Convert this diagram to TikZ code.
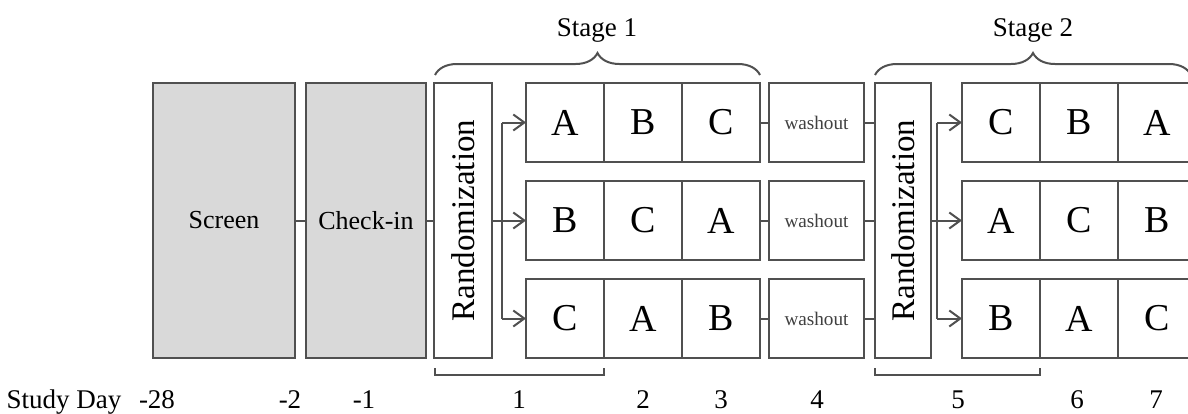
\documentclass[tikz,border=0pt]{standalone}
\usepackage{fontspec}
\setmainfont{Liberation Serif}
\usepackage{graphicx}
\usetikzlibrary{arrows.meta,decorations.pathreplacing}
\definecolor{ln}{HTML}{505050}
\definecolor{fillg}{HTML}{D9D9D9}
\begin{document}
\begin{tikzpicture}[x=0.5pt,y=-0.5pt,
  box/.style={draw=ln, line width=1pt, inner sep=0pt, outer sep=0pt},
  big/.style={box, minimum height=137.5pt},
  grayb/.style={big, fill=fillg, font=\fontsize{13}{15}\selectfont},
  randb/.style={big, minimum width=29pt, font=\fontsize{16.5}{18}\selectfont},
  cell/.style={box, minimum width=39pt, minimum height=39.5pt, font=\fontsize{19}{21}\selectfont},
  wash/.style={box, minimum width=47.5pt, minimum height=39.5pt, font=\fontsize{9.6}{11}\selectfont, text=black!75},
  conn/.style={draw=ln, line width=1pt},
  arr/.style={conn, -{Straight Barb[length=5.5pt,width=8pt]}},
  lbl/.style={font=\fontsize{13.5}{15}\selectfont, anchor=base, inner sep=0pt},
  brc/.style={conn, decorate, decoration={brace, amplitude=11pt}},
]
\useasboundingbox (0,0) rectangle (1188,413);

% big boxes
\node[grayb, minimum width=71pt] (screen) at (224,220.5) {Screen};
\node[grayb, minimum width=60pt] (checkin) at (366,220.5) {Check-in};
\node[randb] (rand1) at (463,220.5) {\rotatebox{90}{Randomization}};
\node[randb, minimum width=28pt] (rand2) at (903,220.5) {\rotatebox{90}{Randomization}};

% stage 1 rows
\node[cell] (a11) at (565,122.5) {A};
\node[cell] (a12) at (643,122.5) {B};
\node[cell] (a13) at (721,122.5) {C};
\node[cell] (a21) at (565,220.5) {B};
\node[cell] (a22) at (643,220.5) {C};
\node[cell] (a23) at (721,220.5) {A};
\node[cell] (a31) at (565,318.5) {C};
\node[cell] (a32) at (643,318.5) {A};
\node[cell] (a33) at (721,318.5) {B};

% washouts
\node[wash] (w1) at (816.5,122.5) {washout};
\node[wash] (w2) at (816.5,220.5) {washout};
\node[wash] (w3) at (816.5,318.5) {washout};

% stage 2 rows
\node[cell] (b11) at (1001,122.5) {C};
\node[cell] (b12) at (1079,122.5) {B};
\node[cell] (b13) at (1157,122.5) {A};
\node[cell] (b21) at (1001,220.5) {A};
\node[cell] (b22) at (1079,220.5) {C};
\node[cell] (b23) at (1157,220.5) {B};
\node[cell] (b31) at (1001,318.5) {B};
\node[cell] (b32) at (1079,318.5) {A};
\node[cell] (b33) at (1157,318.5) {C};

% connectors
\draw[conn] (screen) -- (checkin);
\draw[conn] (checkin) -- (rand1);
\foreach \r in {1,2,3}{
  \draw[conn] (a\r3.east) -- (w\r.west);
  \draw[conn] (w\r.east) -- (w\r.east -| rand2.west);
}

% stage 1 arrows
\coordinate (v1) at (502,0);
\draw[conn] (v1 |- a11.west) -- (v1 |- a31.west);
\draw[arr] (v1 |- a11.west) -- (a11.west);
\draw[arr] (rand1) -- (a21);
\draw[arr] (v1 |- a31.west) -- (a31.west);

% stage 2 arrows
\coordinate (v2) at (937,0);
\draw[conn] (v2 |- b11.west) -- (v2 |- b31.west);
\draw[arr] (v2 |- b11.west) -- (b11.west);
\draw[arr] (rand2) -- (b21);
\draw[arr] (v2 |- b31.west) -- (b31.west);

% top braces
\draw[brc] (435,75) -- (760,75);
\draw[brc] (875,75) -- (1191,75);
\node[lbl] (st1) at (597,36) {Stage 1};
\node[lbl] (st2) at (1033,36) {Stage 2};

% bottom brackets
\draw[conn] (435,368) -- (435,375) -- (604,375) -- (604,368);
\draw[conn] (875,368) -- (875,375) -- (1040,375) -- (1040,368);

% study day labels
\node[lbl] (sd) at (64,408) {Study Day};
\node[lbl] (d1) at (157,408) {-28};
\node[lbl] (d2) at (290,408) {-2};
\node[lbl] (d3) at (364,408) {-1};
\node[lbl] (d4) at (519,408) {1};
\node[lbl] (d5) at (643,408) {2};
\node[lbl] (d6) at (721,408) {3};
\node[lbl] (d7) at (817,408) {4};
\node[lbl] (d8) at (958,408) {5};
\node[lbl] (d9) at (1077,408) {6};
\node[lbl] (d10) at (1156,408) {7};
\end{tikzpicture}
\end{document}
